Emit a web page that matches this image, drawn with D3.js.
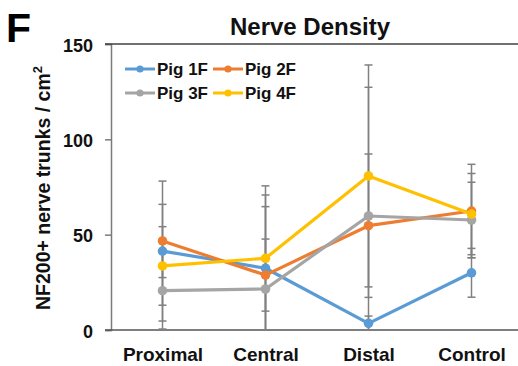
<!DOCTYPE html>
<html>
<head>
<meta charset="utf-8">
<script src="https://cdn.jsdelivr.net/npm/d3@7"></script>
<style>
  html, body { margin: 0; padding: 0; background: #fff; }
  svg { display: block; font-family: "Liberation Sans", Arial, sans-serif; }
</style>
</head>
<body>
<svg id="chart" width="518" height="366"></svg>
<script>
// Sites sampled along the nerve, plus control tissue
const categories = ["Proximal", "Central", "Distal", "Control"];
const seriesNames = ["Pig 1F", "Pig 2F", "Pig 3F", "Pig 4F"];
const seriesColors = ["#5B9BD5", "#ED7D31", "#A5A5A5", "#FFC000"];

// Mean NF200+ trunk density per site (per cm²)
const pig1F = [41.4, 32.4, 3.5, 30.0];
const pig2F = [46.7, 28.8, 54.7, 62.4];
const pig3F = [20.6, 21.5, 59.8, 57.7];
const pig4F = [33.6, 37.6, 80.8, 60.8];

// Standard deviations
const pig1FErr = [36.7, 38.4, 3.8, 12.8];
const pig2FErr = [19.2, 18.9, 37.6, 24.5];
const pig3FErr = [20.1, 43.2, 67.5, 19.8];
const pig4FErr = [20.6, 38.0, 58.2, 21.3];

const yTicks = [0, 50, 100, 150];

const means = [pig1F, pig2F, pig3F, pig4F];
const errs = [pig1FErr, pig2FErr, pig3FErr, pig4FErr];
const series = seriesNames.map((name, i) => ({
  name, color: seriesColors[i],
  points: categories.map((c, j) => ({ c, v: means[i][j], e: errs[i][j] }))
}));

const svg = d3.select("#chart");
const plotLeft = 111, plotRight = 523, plotTop = 44, plotBottom = 330;

const x = d3.scalePoint().domain(categories).range([plotLeft, plotRight]).padding(0.5);
const y = d3.scaleLinear().domain([0, 150]).range([plotBottom, plotTop]);

svg.append("defs").append("clipPath").attr("id", "plotClip")
  .append("rect").attr("x", plotLeft - 10).attr("y", plotTop)
  .attr("width", plotRight - plotLeft + 20).attr("height", plotBottom - plotTop);

// Panel letter
svg.append("text").attr("x", 6).attr("y", 42)
  .attr("font-size", 41).attr("font-weight", "bold").attr("fill", "#000").text("F");

// Title
svg.append("text").attr("x", 310).attr("y", 35).attr("text-anchor", "middle")
  .attr("font-size", 24).attr("font-weight", "bold").attr("fill", "#111").text("Nerve Density");

// Y axis
const yAxis = d3.axisLeft(y).tickValues(yTicks).tickSize(6).tickPadding(12).tickFormat(d3.format("d"));
const gy = svg.append("g").attr("transform", `translate(${plotLeft},0)`).call(yAxis);
gy.select(".domain").attr("stroke", "#7a7a7a").attr("stroke-width", 1.5);
gy.selectAll(".tick line").attr("stroke", "#7a7a7a").attr("stroke-width", 1.5);
gy.selectAll(".tick text").attr("font-size", 18).attr("font-weight", "bold")
  .attr("fill", "#111").attr("font-family", "'Liberation Sans', Arial, sans-serif").attr("dy", "0.4em");

// Top frame line at the axis maximum
svg.append("line").attr("x1", plotLeft - 6).attr("x2", 518)
  .attr("y1", y(150)).attr("y2", y(150)).attr("stroke", "#404040").attr("stroke-width", 1.6);

// X axis (labels only, no ticks)
const xAxis = d3.axisBottom(x).tickSize(0).tickPadding(18);
const gx = svg.append("g").attr("transform", `translate(0,${plotBottom})`).call(xAxis);
gx.select(".domain").remove();
gx.selectAll(".tick text").attr("font-size", 19).attr("font-weight", "bold")
  .attr("fill", "#111").attr("font-family", "'Liberation Sans', Arial, sans-serif");
svg.append("line").attr("x1", plotLeft - 6).attr("x2", 518)
  .attr("y1", plotBottom).attr("y2", plotBottom).attr("stroke", "#555").attr("stroke-width", 1.6);

// Y axis title
const yt = svg.append("text").attr("transform", "translate(50,188) rotate(-90)")
  .attr("text-anchor", "middle").attr("font-size", 19.5).attr("font-weight", "bold").attr("fill", "#111");
yt.append("tspan").text("NF200+ nerve trunks / cm");
yt.append("tspan").attr("font-size", 13).attr("dy", -8).text("2");

const plot = svg.append("g").attr("clip-path", "url(#plotClip)");

// Error bars
const capW = 4;
series.forEach(s => {
  const g = plot.append("g");
  s.points.forEach(p => {
    const cx = x(p.c);
    g.append("line").attr("x1", cx).attr("x2", cx)
      .attr("y1", y(p.v + p.e)).attr("y2", y(p.v - p.e))
      .attr("stroke", "#808080").attr("stroke-width", 1.5);
    [p.v + p.e, p.v - p.e].forEach(v => {
      g.append("line").attr("x1", cx - capW).attr("x2", cx + capW)
        .attr("y1", y(v)).attr("y2", y(v))
        .attr("stroke", "#808080").attr("stroke-width", 1.5);
    });
  });
});

// Series lines and markers
const line = d3.line().x(d => x(d.c)).y(d => y(d.v));
series.forEach(s => {
  plot.append("path").datum(s.points).attr("d", line)
    .attr("fill", "none").attr("stroke", s.color).attr("stroke-width", 3.2)
    .attr("stroke-linejoin", "round");
  plot.selectAll(null).data(s.points).join("circle")
    .attr("cx", d => x(d.c)).attr("cy", d => y(d.v)).attr("r", 4.8)
    .attr("fill", s.color);
});

// Legend
const legendCols = [125, 213];
const legendRows = [69, 93];
series.forEach((s, i) => {
  const lx = legendCols[i % 2], ly = legendRows[Math.floor(i / 2)];
  const g = svg.append("g");
  g.append("line").attr("x1", lx).attr("x2", lx + 30).attr("y1", ly).attr("y2", ly)
    .attr("stroke", s.color).attr("stroke-width", 3);
  g.append("circle").attr("cx", lx + 15).attr("cy", ly).attr("r", 3.6).attr("fill", s.color);
  g.append("text").attr("x", lx + 32).attr("y", ly).attr("dy", "0.36em")
    .attr("font-size", 17).attr("font-weight", "bold").attr("fill", "#111").text(s.name);
});
</script>
</body>
</html>
